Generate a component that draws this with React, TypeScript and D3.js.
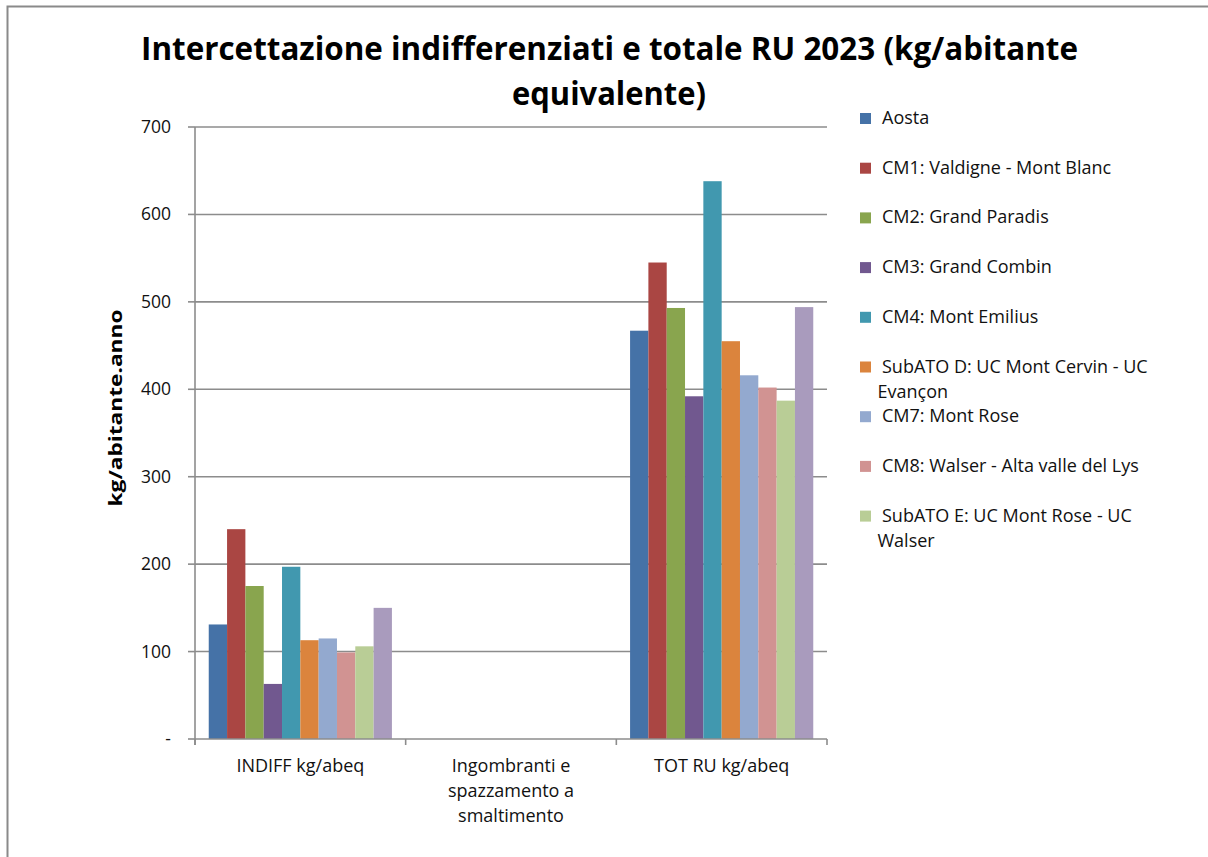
import React from "react";
import * as d3 from "d3";

const categories = ["INDIFF kg/abeq", "Ingombranti e spazzamento a smaltimento", "TOT RU kg/abeq"];
const categoryLines = [["INDIFF kg/abeq"], ["Ingombranti e", "spazzamento a", "smaltimento"], ["TOT RU kg/abeq"]];

const seriesNames = [
  "Aosta",
  "CM1: Valdigne - Mont Blanc",
  "CM2: Grand Paradis",
  "CM3: Grand Combin",
  "CM4: Mont Emilius",
  "SubATO D: UC Mont Cervin - UC Evançon",
  "CM7: Mont Rose",
  "CM8: Walser - Alta valle del Lys",
  "SubATO E: UC Mont Rose - UC Walser",
  "Serie 10",
];
const legendLines = [
  ["Aosta"],
  ["CM1: Valdigne - Mont Blanc"],
  ["CM2: Grand Paradis"],
  ["CM3: Grand Combin"],
  ["CM4: Mont Emilius"],
  ["SubATO D: UC Mont Cervin - UC", "Evançon"],
  ["CM7: Mont Rose"],
  ["CM8: Walser - Alta valle del Lys"],
  ["SubATO E: UC Mont Rose - UC", "Walser"],
];
const colors = ["#4572A7", "#AA4643", "#89A54E", "#71588F", "#4198AF", "#DB843D", "#93A9CF", "#D19392", "#B9CD96", "#A99BBD"];

const indiffValues = [131, 240, 175, 63, 197, 113, 115, 99, 106, 150];
const ingombrantiValues = [0, 0, 0, 0, 0, 0, 0, 0, 0, 0];
const totRuValues = [467, 545, 493, 392, 638, 455, 416, 402, 387, 494];
const valuesByCategory = [indiffValues, ingombrantiValues, totRuValues];

const yTicks = [0, 100, 200, 300, 400, 500, 600, 700];

const FONT = "'Open Sans', 'Noto Sans', sans-serif";

export default function App() {
  const W = 1208, H = 857;
  const left = 195, right = 827, top = 127, bottom = 739;
  const y = d3.scaleLinear().domain([0, 700]).range([bottom, top]);
  const x = d3.scaleBand<string>().domain(categories).range([left, right]).padding(0);
  const xs = d3.scaleBand<string>().domain(seriesNames).range([0, x.bandwidth()]).paddingInner(0).paddingOuter(0.75);
  const gridColor = "#8c8c8c";

  return (
    <svg width={W} height={H} style={{ position: "absolute", left: 0, top: 0, background: "#fff" }} fontFamily={FONT}>
      <rect x={0} y={0} width={W} height={H} fill="#fff" />
      {/* frame */}
      <path d={`M7.5,${H} V6.5 H${W}`} fill="none" stroke="#8a8a8a" strokeWidth={2} />
      {/* title */}
      <text x={609.5} y={60} textAnchor="middle" fontWeight="bold" fontSize={33} textLength={937} lengthAdjust="spacingAndGlyphs" fill="#000">
        Intercettazione indifferenziati e totale RU 2023 (kg/abitante
      </text>
      <text x={609} y={105} textAnchor="middle" fontWeight="bold" fontSize={33} textLength={194} lengthAdjust="spacingAndGlyphs" fill="#000">
        equivalente)
      </text>
      {/* gridlines */}
      {yTicks.map((t) => (
        <g key={t}>
          {t > 0 && <line x1={left} x2={right} y1={y(t)} y2={y(t)} stroke={gridColor} strokeWidth={1.6} />}
          <line x1={left - 7} x2={left} y1={y(t)} y2={y(t)} stroke={gridColor} strokeWidth={1.6} />
          <text x={171} y={y(t) + 6} textAnchor="end" fontSize={17.5} fill="#111">
            {t === 0 ? "-" : d3.format("d")(t)}
          </text>
        </g>
      ))}
      {/* bars */}
      {categories.map((c, ci) => (
        <g key={c} transform={`translate(${x(c)},0)`}>
          {seriesNames.map((s, si) => {
            const v = valuesByCategory[ci][si];
            if (!v) return null;
            return (
              <rect key={s} x={xs(s)} y={y(v)} width={xs.bandwidth()} height={y(0) - y(v)} fill={colors[si]} />
            );
          })}
        </g>
      ))}
      {/* axes */}
      <line x1={left} x2={left} y1={top} y2={bottom + 6} stroke={gridColor} strokeWidth={1.6} />
      <line x1={left} x2={right} y1={bottom} y2={bottom} stroke={gridColor} strokeWidth={1.6} />
      {[...categories.map((c) => x(c) as number), right].map((px, i) => (
        <line key={i} x1={px} x2={px} y1={bottom} y2={bottom + 6} stroke={gridColor} strokeWidth={1.6} />
      ))}
      {categories.map((c, ci) => (
        <text key={c} textAnchor="middle" fontSize={18} fill="#111">
          {categoryLines[ci].map((ln, li) => (
            <tspan key={li} x={(x(c) as number) + x.bandwidth() / 2} y={772 + li * 25}>
              {ln}
            </tspan>
          ))}
        </text>
      ))}
      {/* y axis title */}
      <text transform={`translate(122,408) rotate(-90)`} textAnchor="middle" fontWeight="bold" fontSize={17} textLength={197} lengthAdjust="spacingAndGlyphs" fill="#000">
        kg/abitante.anno
      </text>
      {/* legend */}
      {legendLines.map((lines, i) => {
        const by = 124 + i * 49.7;
        return (
          <g key={i}>
            <rect x={860} y={by - 11} width={11} height={11} fill={colors[i]} />
            {lines.map((ln, li) => (
              <text key={li} x={li === 0 ? 882 : 877.5} y={by + li * 25} fontSize={18} fill="#111">
                {ln}
              </text>
            ))}
          </g>
        );
      })}
    </svg>
  );
}
